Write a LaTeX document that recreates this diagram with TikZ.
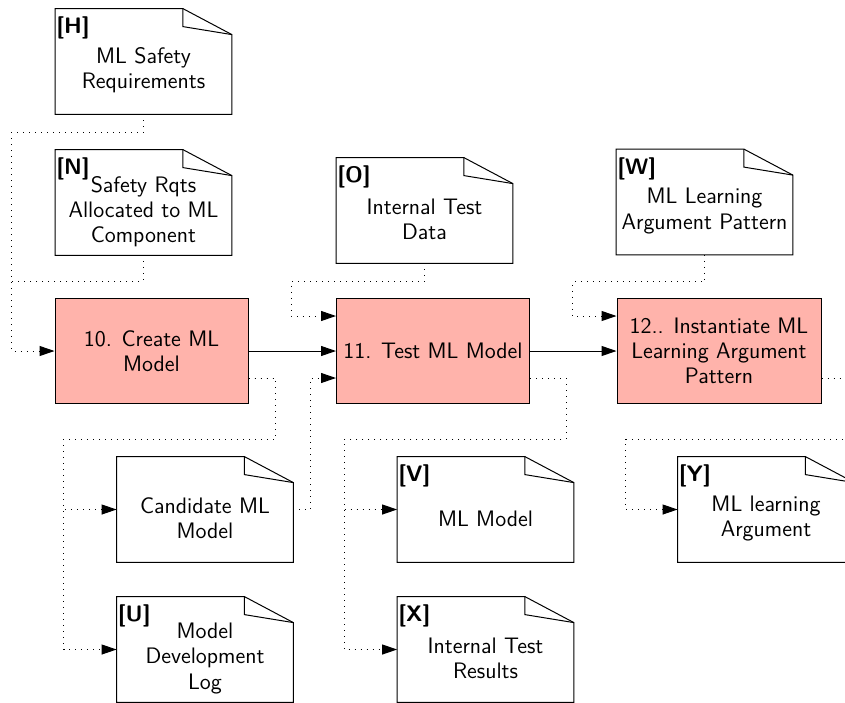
\documentclass[tikz,border=0pt]{standalone}
\usepackage{fontspec}
\usepackage{tikz}
\usetikzlibrary{arrows.meta}
\renewcommand{\familydefault}{\sfdefault}
\definecolor{taskred}{RGB}{255,179,171}
\tikzset{
    every node/.style={font=\fontsize{11.2}{12.6}\selectfont}
}
\tikzset{
    task/.style={rectangle, draw, line width=0.5pt, fill=taskred,
        minimum width=96.5pt, minimum height=52.5pt, align=center, inner sep=2pt}
}
\tikzset{
    doc/.style={rectangle, minimum width=88pt, minimum height=52.5pt, inner sep=0pt,
        append after command={\pgfextra{
            \draw[line width=0.5pt] (\tikzlastnode.south west) -- (\tikzlastnode.north west)
                -- ([xshift=-24.5pt]\tikzlastnode.north east)
                -- ([yshift=-13pt]\tikzlastnode.north east)
                -- (\tikzlastnode.south east) -- cycle;
            \draw[line width=0.5pt] ([xshift=-24.5pt]\tikzlastnode.north east) -- ++(0,-9pt)
                -- ([yshift=-13pt]\tikzlastnode.north east);
        }}},
    doctext/.style={align=center, inner sep=0pt, yshift=-4.5pt},
    docid/.style={anchor=north west, inner sep=0pt, xshift=0.5pt, yshift=-4pt,
        font=\fontsize{11.2}{12.6}\selectfont\bfseries}
}
\tikzset{
    flow/.style={line width=0.5pt, -{Triangle[length=7.5pt,width=5pt]}},
    dep/.style={flow, dash pattern=on 0.5pt off 2.5pt},
    nodep/.style={line width=0.5pt, dash pattern=on 0.5pt off 2.5pt}
}

\begin{document}
\begin{tikzpicture}[x=0.5pt, y=-0.5pt]
	\useasboundingbox (0,0) rectangle (845,702);
	\clip (0,0) rectangle (845,702);

	% activities
	\node[task] (10) at (151.5,351) {10. Create ML\\Model};
	\node[task] (11) at (433,351) {11. Test ML Model};
	\node[task, minimum width=102pt] (12) at (719,351)
		{12.. Instantiate ML\\Learning Argument\\Pattern};

	% artefacts
	\node[doc, label={[docid]north west:{[H]}},
		label={[doctext]center:{ML Safety\\Requirements}}] (H) at (143.5,61.5) {};
	\node[doc, label={[docid]north west:{[N]}},
		label={[doctext]center:{Safety Rqts\\Allocated to ML\\Component}}] (N) at (143.5,202.5) {};
	\node[doc, label={[docid]north west:{[O]}},
		label={[doctext]center:{Internal Test\\Data}}] (O) at (424.5,210.5) {};
	\node[doc, label={[docid]north west:{[W]}},
		label={[doctext]center:{ML Learning\\Argument Pattern}}] (W) at (704.5,202) {};
	\node[doc, label={[doctext]center:{Candidate ML\\Model}}] (C) at (205,509.5) {};
	\node[doc, label={[docid]north west:{[U]}},
		label={[doctext]center:{Model\\Development\\Log}}] (U) at (205,649.5) {};
	\node[doc, label={[docid]north west:{[V]}},
		label={[doctext]center:{ML Model}}] (V) at (485.5,509.5) {};
	\node[doc, label={[docid]north west:{[X]}},
		label={[doctext]center:{Internal Test\\Results}}] (X) at (485.5,649.5) {};
	\node[doc, label={[docid]north west:{[Y]}},
		label={[doctext]center:{ML learning\\Argument}}] (Y) at (766,509.5) {};

	\coordinate (bus10) at (12,281);

	\draw[flow] (10) -- (11); \draw[flow] (11) -- (12);

	% inputs
	\draw[dep] (H.south) -- ++(0,18) -| ([xshift=-21.5pt]10.west) -- (10.west);
	\draw[nodep] (N.south) |- (bus10);
	\draw[dep] (O.south) -- ++(0,18) -| ([shift={(-22.5pt,17.5pt)}]11.west)
		-- ([yshift=17.5pt]11.west);
	\draw[dep] (W.south) -- ++(0,27) -| ([shift={(-22pt,17.5pt)}]12.west)
		-- ([yshift=17.5pt]12.west);
	\draw[dep] (C.east) -- ++(17,0) |- ([yshift=-13.5pt]11.west);

	% outputs
	\draw[dep] ([yshift=-13.5pt]10.east) -- ++(27,0) -- ++(0,61)
		-| ([xshift=-26.5pt]C.west) -- (C.west);
	\draw[dep] ([yshift=-13.5pt]10.east) -- ++(27,0) -- ++(0,61)
		-| ([xshift=-26.5pt]U.west) -- (U.west);
	\draw[dep] ([yshift=-13.5pt]11.east) -- ++(36,0) -- ++(0,61)
		-| ([xshift=-26.5pt]V.west) -- (V.west);
	\draw[dep] ([yshift=-13.5pt]11.east) -- ++(36,0) -- ++(0,61)
		-| ([xshift=-26.5pt]X.west) -- (X.west);
	\draw[dep] ([yshift=-13.5pt]12.east) -- ++(40,0) -- ++(0,61)
		-| ([xshift=-26pt]Y.west) -- (Y.west);
\end{tikzpicture}
\end{document}
